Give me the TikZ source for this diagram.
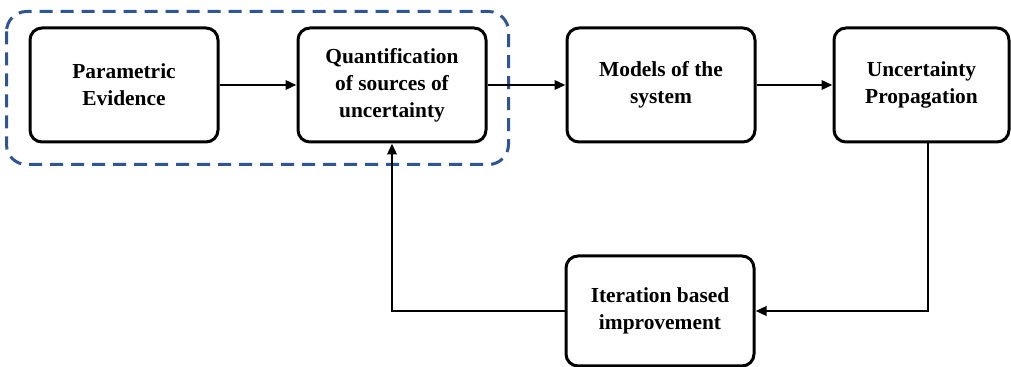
\documentclass[tikz,border=0pt]{standalone}
\usepackage{fontspec}
\setmainfont{Liberation Serif}
\usetikzlibrary{arrows.meta,calc}
\definecolor{ink}{HTML}{000000}
\definecolor{dashblue}{HTML}{2F5597}
\tikzset{
  every node/.style={text=ink},
  blk/.style={draw=ink, line width=1.5pt, rounded corners=6pt, fill=white,
              minimum width=94pt, minimum height=57pt, align=center,
              font=\fontsize{10.7}{13.5}\selectfont\bfseries},
  arr/.style={-{Triangle[length=5.5pt,width=4.6pt]}, draw=ink, line width=1.4pt},
  grp/.style={draw=dashblue, line width=1.5pt, dash pattern=on 6.5pt off 4pt,
              rounded corners=10pt},
}
\begin{document}
\begin{tikzpicture}[x=0.5pt,y=0.5pt]
\useasboundingbox (0,0) rectangle (1011,-367);

% ---------------- top row ----------------
\node[blk] (pe) at (124,-85) {Parametric\\ Evidence};
\node[blk] (qs) at (392,-85) {Quantification\\ of sources of\\ uncertainty};
\node[blk] (ms) at (661,-85) {Models of the\\ system};
\node[blk, minimum width=87.5pt] (up) at (921.5,-85) {Uncertainty\\ Propagation};

% ---------------- feedback ----------------
\node[blk, minimum height=55pt] (ib) at (660,-311) {Iteration based\\ improvement};

% dashed group round the first two steps
\draw[grp] ([shift={(-22,15)}]pe.north west) rectangle ([shift={(21,-21)}]qs.south east);

% ---------------- arrows ----------------
\draw[arr] (pe) -- (qs);
\draw[arr] (qs) -- (ms);
\draw[arr] (ms) -- (up);
\draw[arr] ([xshift=3.25pt]up.south) |- (ib.east);
\draw[arr] (ib.west) -| (qs.south);

\end{tikzpicture}
\end{document}
